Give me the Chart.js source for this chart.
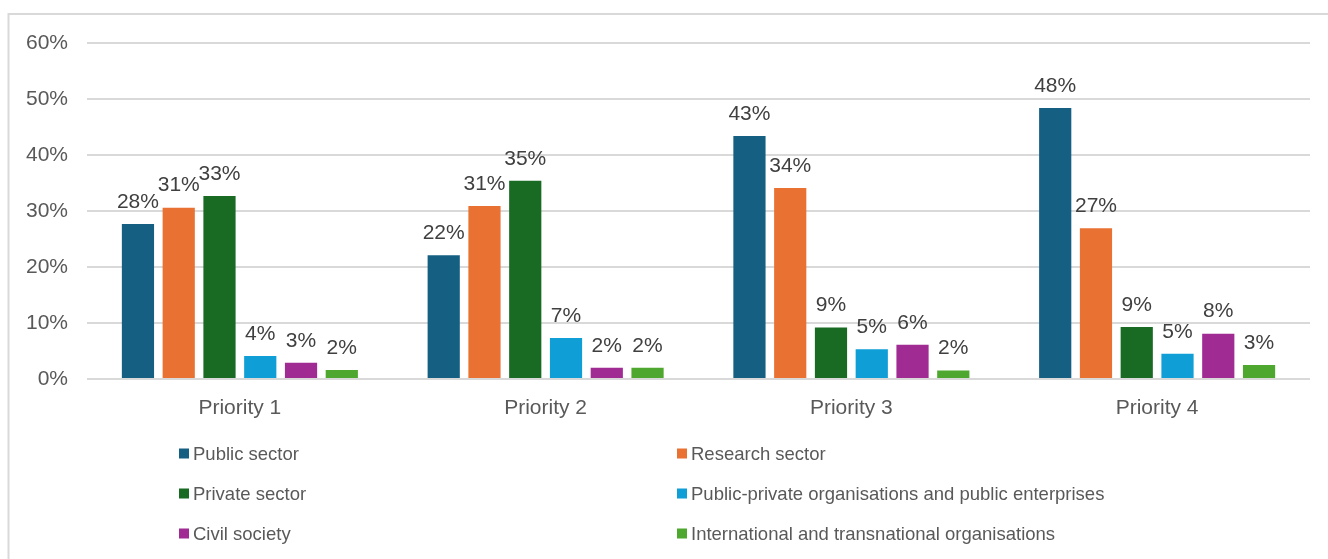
<!DOCTYPE html>
<html>
<head>
<meta charset="utf-8">
<script src="https://cdn.jsdelivr.net/npm/chart.js@4"></script>
<style>
  html, body { margin: 0; padding: 0; background: #fff; }
  #wrap { position: relative; width: 1328px; height: 559px; }
</style>
</head>
<body>
<div id="wrap"><canvas id="barChart"></canvas></div>
<script>
const priorities = ['Priority 1', 'Priority 2', 'Priority 3', 'Priority 4'];

const publicSector = [27.7, 22.1, 43.4, 48.4];
const researchSector = [30.6, 30.9, 34.1, 26.9];
const privateSector = [32.7, 35.4, 9.2, 9.3];
const publicPrivate = [4.1, 7.3, 5.3, 4.5];
const civilSociety = [2.9, 2.0, 6.1, 8.1];
const international = [1.6, 2.0, 1.5, 2.5];

const yTicks = [0, 10, 20, 30, 40, 50, 60];

const seriesNames = [
  'Public sector',
  'Research sector',
  'Private sector',
  'Public-private organisations and public enterprises',
  'Civil society',
  'International and transnational organisations'
];
const seriesColors = ['#156082', '#E97132', '#196B24', '#0F9ED5', '#A02B93', '#4EA72E'];
const seriesValues = [publicSector, researchSector, privateSector, publicPrivate, civilSociety, international];

const FONT = '"Liberation Sans", Arial, sans-serif';

// light frame around the chart (left and top edges only)
const framePlugin = {
  id: 'frame',
  beforeDraw(chart) {
    const c = chart.ctx;
    c.save();
    c.strokeStyle = '#d9d9d9';
    c.lineWidth = 2;
    c.beginPath();
    c.moveTo(8.5, chart.height);
    c.lineTo(8.5, 14);
    c.lineTo(chart.width, 14);
    c.stroke();
    c.restore();
  }
};

// value labels above each bar
const valueLabels = {
  id: 'valueLabels',
  afterDatasetsDraw(chart) {
    const c = chart.ctx;
    c.save();
    c.font = '21px ' + FONT;
    c.fillStyle = '#404040';
    c.textAlign = 'center';
    c.textBaseline = 'middle';
    chart.data.datasets.forEach((ds, i) => {
      chart.getDatasetMeta(i).data.forEach((bar, j) => {
        c.fillText(Math.round(ds.data[j]) + '%', bar.x, bar.y - 22);
      });
    });
    c.restore();
  }
};

// two-column legend under the axis
const gridLegend = {
  id: 'gridLegend',
  afterDraw(chart) {
    const c = chart.ctx;
    const cols = [179, 677];
    const rows = [453.5, 493.5, 533.5];
    c.save();
    c.font = '18.5px ' + FONT;
    c.textBaseline = 'middle';
    c.textAlign = 'left';
    chart.data.datasets.forEach((ds, i) => {
      const x = cols[i % 2];
      const y = rows[Math.floor(i / 2)];
      c.fillStyle = ds.backgroundColor;
      c.fillRect(x, y - 5, 10, 10);
      c.fillStyle = '#595959';
      c.fillText(ds.label, x + 14, y + 1);
    });
    c.restore();
  }
};

const ctx = document.getElementById('barChart').getContext('2d');

new Chart(ctx, {
  type: 'bar',
  data: {
    labels: priorities,
    datasets: seriesNames.map((name, i) => ({
      label: name,
      data: seriesValues[i],
      backgroundColor: seriesColors[i],
      borderWidth: 0,
      categoryPercentage: 0.8,
      barPercentage: 0.79
    }))
  },
  options: {
    responsive: true,
    maintainAspectRatio: false,
    animation: false,
    layout: { padding: { top: 43, right: 18, left: 0, bottom: 0 } },
    plugins: {
      legend: { display: false },
      tooltip: { enabled: false }
    },
    scales: {
      x: {
        grid: { display: false },
        border: { display: false },
        ticks: {
          color: '#595959',
          font: { family: FONT, size: 21 },
          padding: 9
        },
        afterFit(scale) { scale.height = 180; }
      },
      y: {
        min: yTicks[0],
        max: yTicks[yTicks.length - 1],
        afterBuildTicks(scale) { scale.ticks = yTicks.map(v => ({ value: v })); },
        grid: { color: '#d9d9d9', lineWidth: 2, drawTicks: false },
        border: { display: false },
        ticks: {
          color: '#595959',
          font: { family: FONT, size: 21 },
          padding: 19,
          callback: v => v + '%'
        },
        afterFit(scale) { scale.width = 87; }
      }
    }
  },
  plugins: [framePlugin, valueLabels, gridLegend]
});
</script>
</body>
</html>
